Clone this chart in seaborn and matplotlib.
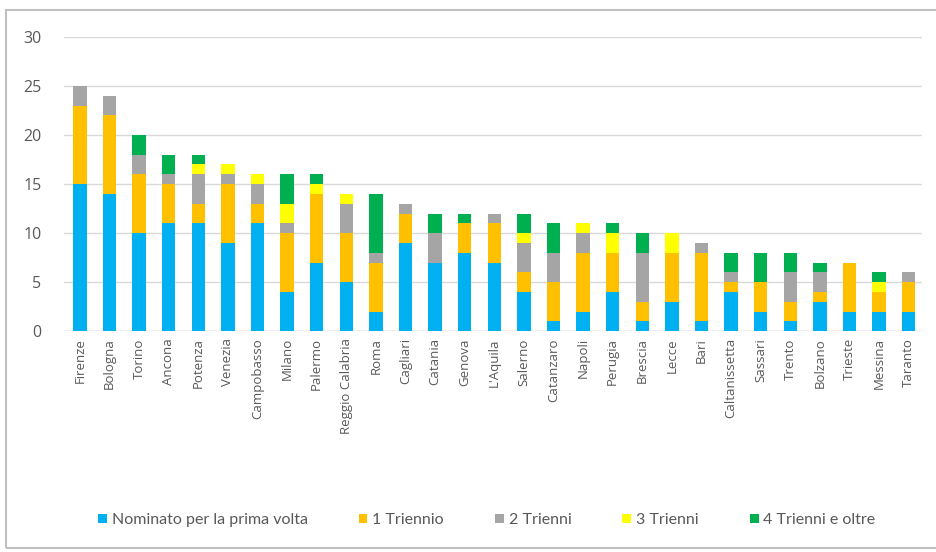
import numpy as np
import pandas as pd
import seaborn as sns
import matplotlib.pyplot as plt
from matplotlib.patches import Rectangle, Patch

# Data
cities = ["Firenze", "Bologna", "Torino", "Ancona", "Potenza", "Venezia", "Campobasso",
          "Milano", "Palermo", "Reggio Calabria", "Roma", "Cagliari", "Catania", "Genova",
          "L'Aquila", "Salerno", "Catanzaro", "Napoli", "Perugia", "Brescia", "Lecce", "Bari",
          "Caltanissetta", "Sassari", "Trento", "Bolzano", "Trieste", "Messina", "Taranto"]
prima_volta = [15, 14, 10, 11, 11, 9, 11, 4, 7, 5, 2, 9, 7, 8, 7, 4, 1, 2, 4, 1, 3, 1, 4, 2, 1, 3, 2, 2, 2]
triennio_1 = [8, 8, 6, 4, 2, 6, 2, 6, 7, 5, 5, 3, 0, 3, 4, 2, 4, 6, 4, 2, 5, 7, 1, 3, 2, 1, 5, 2, 3]
trienni_2 = [2, 2, 2, 1, 3, 1, 2, 1, 0, 3, 1, 1, 3, 0, 1, 3, 3, 2, 0, 5, 0, 1, 1, 0, 3, 2, 0, 0, 1]
trienni_3 = [0, 0, 0, 0, 1, 1, 1, 2, 1, 1, 0, 0, 0, 0, 0, 1, 0, 1, 2, 0, 2, 0, 0, 0, 0, 0, 0, 1, 0]
trienni_4 = [0, 0, 2, 2, 1, 0, 0, 3, 1, 0, 6, 0, 2, 1, 0, 2, 3, 0, 1, 2, 0, 0, 2, 3, 2, 1, 0, 1, 0]

series_names = ["Nominato per la prima volta", "1 Triennio", "2 Trienni", "3 Trienni", "4 Trienni e oltre"]
colors = ["#00B0F0", "#FFC000", "#A5A5A5", "#FFFF00", "#00B050"]

df = pd.DataFrame({"city": cities,
                   series_names[0]: prima_volta,
                   series_names[1]: triennio_1,
                   series_names[2]: trienni_2,
                   series_names[3]: trienni_3,
                   series_names[4]: trienni_4})

sns.set_theme(style="white")
plt.rcParams["font.family"] = ["Open Sans", "DejaVu Sans"]

fig = plt.figure(figsize=(9.36, 5.52), dpi=100)
ax = fig.add_axes([0.068, 0.40, 0.917, 0.533])

# stacked bars: draw cumulative totals from the top layer down
cum = df[series_names].cumsum(axis=1)
for name, col in reversed(list(zip(series_names, colors))):
    sns.barplot(x=df["city"], y=cum[name], color=col, width=0.45,
                saturation=1, linewidth=0, ax=ax, zorder=3)

ax.set_ylim(0, 30)
ax.set_xlim(-0.55, 28.45)
ax.set_yticks(range(0, 31, 5))
ax.grid(axis="y", color="#D9D9D9", linewidth=1, zorder=0)
ax.axhline(0, color="#D0D0D0", linewidth=1, zorder=2)
sns.despine(ax=ax, left=True, bottom=True)
ax.set_xlabel("")
ax.set_ylabel("")
ax.tick_params(axis="y", colors="#595959", labelsize=11.5, length=0, pad=16)
ax.tick_params(axis="x", colors="#595959", labelsize=9.5, length=0, pad=5)
plt.setp(ax.get_xticklabels(), rotation=90)

handles = [Patch(facecolor=c, edgecolor="none") for c in colors]
fig.legend(handles, series_names, loc="center", bbox_to_anchor=(0.52, 0.058), ncol=5,
           frameon=False, handlelength=0.55, handleheight=0.55, handletextpad=0.3,
           columnspacing=3.2, labelcolor="#595959",
           prop={"family": ["Lato", "DejaVu Sans"], "size": 11.5})

# chart border
fig.patches.append(Rectangle((6 / 936, 4 / 552), 1.0, 538 / 552, transform=fig.transFigure,
                             fill=False, edgecolor="#BFBFBF", linewidth=1.5))

fig.savefig("out.png", dpi=100)
